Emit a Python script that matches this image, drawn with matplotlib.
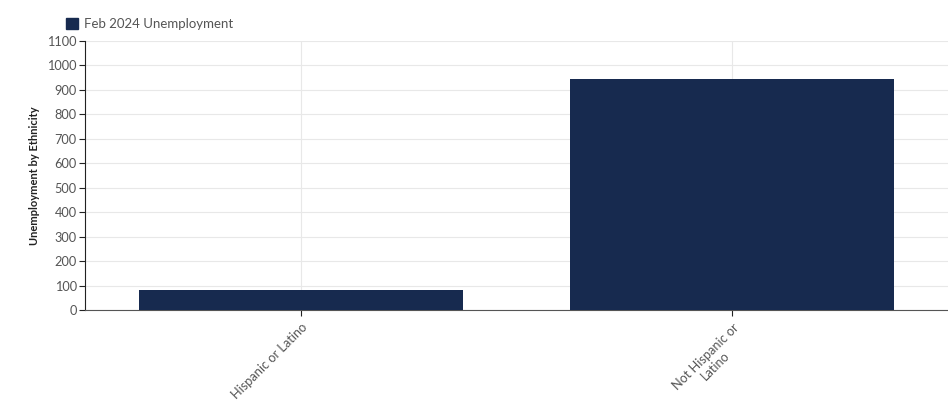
import matplotlib
matplotlib.use("Agg")
import matplotlib.pyplot as plt
from matplotlib.patches import Patch

categories = ["Hispanic or Latino", "Not Hispanic or\nLatino"]
values = [82, 945]
series_name = "Feb 2024 Unemployment"
y_ticks = list(range(0, 1101, 100))

plt.rcParams['font.family'] = ['Lato', 'DejaVu Sans']
bar_color = "#172a4f"
text_color = "#555555"

fig = plt.figure(figsize=(9.48, 4.2), dpi=100)
ax = fig.add_axes([85/948, 110/420, 863/948, 269/420])

x = range(len(categories))
ax.bar(x, values, width=0.75, color=bar_color, zorder=3)
ax.set_xlim(-0.5, len(categories) - 0.5)
ax.set_ylim(0, 1100)
ax.set_yticks(y_ticks)
ax.set_yticklabels([str(v) for v in y_ticks], fontsize=9.2, color=text_color)
ax.set_xticks(list(x))
ax.set_xticklabels(categories, rotation=45, ha='right', rotation_mode='anchor',
                   fontsize=9.2, color=text_color, multialignment='center')
ax.grid(True, color="#e8e8e8", linewidth=0.8, zorder=0)
ax.set_axisbelow(True)
for s in ['top', 'right']:
    ax.spines[s].set_visible(False)
ax.spines['left'].set_color('#222222')
ax.spines['bottom'].set_color('#555555')
ax.tick_params(axis='both', length=4, color='#222222', pad=2)
ax.tick_params(axis='x', pad=4)
ax.set_ylabel("Unemployment by Ethnicity", fontsize=8, fontweight='bold',
              color='#222222', labelpad=5)

fig.legend(handles=[Patch(color=bar_color, label=series_name)],
           loc='upper left', bbox_to_anchor=(61/948, 1 - 13/420), frameon=False,
           fontsize=9.5, labelcolor=text_color, handlelength=0.9, handleheight=0.9,
           handletextpad=0.45, borderaxespad=0)

fig.savefig("out.png", dpi=100)
